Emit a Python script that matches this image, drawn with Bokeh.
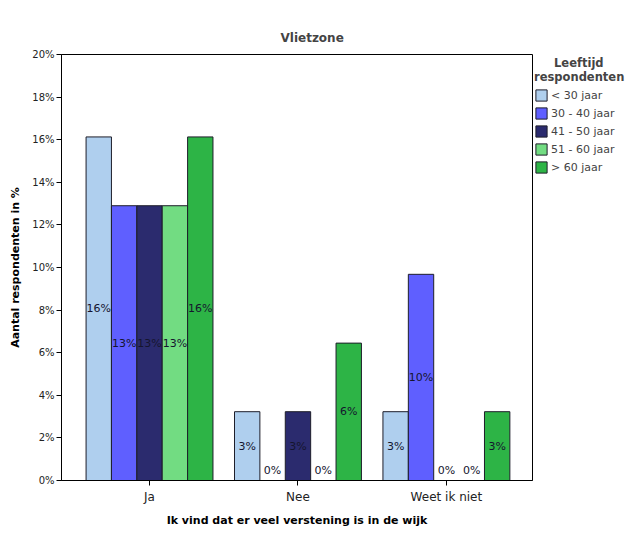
from bokeh.plotting import figure
from bokeh.models import (ColumnDataSource, Range1d, FixedTicker, PrintfTickFormatter,
                          Legend, LegendItem)
from bokeh.core.properties import value
from bokeh.embed import file_html
from bokeh.resources import INLINE

# ---- data ----
categories = ["Ja", "Nee", "Weet ik niet"]
age_groups = ["< 30 jaar", "30 - 40 jaar", "41 - 50 jaar", "51 - 60 jaar", "> 60 jaar"]
lt30 = [16.13, 3.23, 3.23]
a30_40 = [12.90, 0.0, 9.68]
a41_50 = [12.90, 3.23, 0.0]
a51_60 = [12.90, 0.0, 0.0]
gt60 = [16.13, 6.45, 3.23]
y_ticks = [0, 2, 4, 6, 8, 10, 12, 14, 16, 18, 20]

series = [lt30, a30_40, a41_50, a51_60, gt60]
colors = ["#AFCFEE", "#5F5FFF", "#2B2B6E", "#72DC82", "#2DB446"]

FONT = "DejaVu Sans"
bar_w = 0.171

p = figure(frame_width=471, frame_height=426,
           x_range=Range1d(0.407, 3.58), y_range=Range1d(0, 20),
           output_backend="svg", toolbar_location=None,
           min_border_left=61, min_border_top=54, min_border_bottom=45,
           min_border_right=90, title="Vlietzone")

p.title.align = "left"
p.title.text_font = FONT
p.title.text_font_size = "12px"
p.title.text_font_style = "bold"
p.title.offset = 219
p.title.standoff = 20

p.xgrid.grid_line_color = None
p.ygrid.grid_line_color = None
p.outline_line_color = "#000000"

items = []
for i, (vals, col, name) in enumerate(zip(series, colors, age_groups)):
    off = (i - 2) * bar_w
    xs = [k + 1 + off for k in range(len(categories))]
    src = ColumnDataSource(dict(
        x=xs, top=vals,
        ymid=[v / 2 for v in vals],
        yoff=[-10 if v == 0 else 0 for v in vals],
        lab=["%d%%" % round(v) for v in vals],
    ))
    r = p.vbar(x="x", top="top", width=bar_w, source=src,
               fill_color=col, line_color="#1e1e2a", line_width=1)
    p.text(x="x", y="ymid", text="lab", y_offset="yoff", source=src,
           text_align="center", text_baseline="middle",
           text_font=value(FONT), text_font_size="11px", text_color="#15152e")
    items.append(LegendItem(label=name, renderers=[r]))

legend = Legend(items=items,
                title="\u00a0\u00a0\u00a0\u00a0\u00a0Leeftijd\nrespondenten",
                location="top_left",
                margin=0, padding=2, spacing=4, label_height=14,
                glyph_height=14, glyph_width=14, label_standoff=3,
                title_standoff=4, border_line_alpha=0, background_fill_alpha=0,
                label_text_font=FONT, label_text_font_size="11px",
                title_text_font=FONT, title_text_font_size="11.5px",
                title_text_font_style="bold")
p.add_layout(legend, "right")

# axes
xa = p.xaxis[0]
xa.ticker = FixedTicker(ticks=[1, 2, 3])
xa.major_label_overrides = {k + 1: c for k, c in enumerate(categories)}
xa.axis_label = "Ik vind dat er veel verstening is in de wijk"
ya = p.yaxis[0]
ya.ticker = FixedTicker(ticks=y_ticks)
ya.formatter = PrintfTickFormatter(format="%d%%")
ya.axis_label = "Aantal respondenten in %"

for ax in (xa, ya):
    ax.axis_line_color = "#000000"
    ax.major_tick_line_color = "#000000"
    ax.major_tick_out = 5
    ax.major_tick_in = 0
    ax.minor_tick_line_color = None
    ax.major_label_text_font = FONT
    ax.major_label_text_color = "#222222"
    ax.axis_label_text_font = FONT
    ax.axis_label_text_font_size = "11px"
    ax.axis_label_text_font_style = "bold"
    ax.axis_label_text_color = "#000000"

xa.axis_label_standoff = 7
ya.axis_label_standoff = 7
xa.major_label_text_font_size = "12px"
xa.major_label_standoff = 4
ya.major_label_text_font_size = "10px"
ya.major_label_standoff = 2

open("out.html", "w").write(file_html(p, INLINE))
